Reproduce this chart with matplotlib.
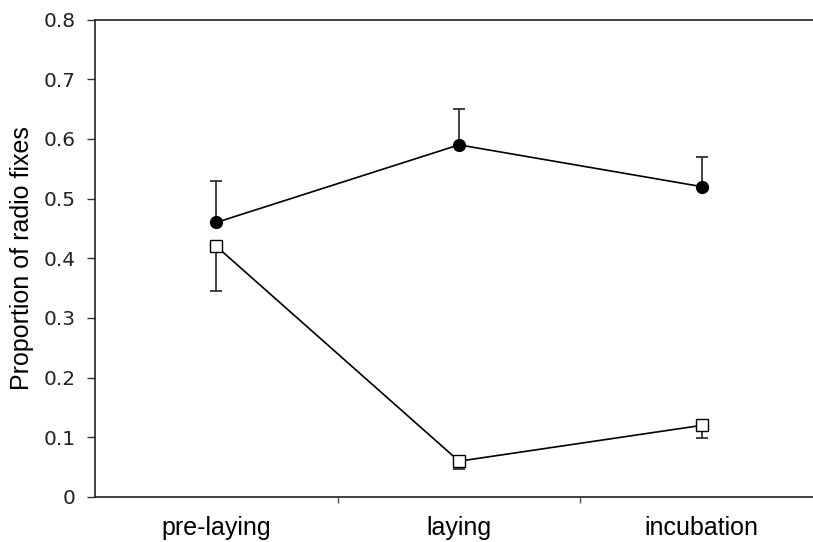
import numpy as np
import matplotlib.pyplot as plt
from matplotlib.ticker import FixedLocator, NullFormatter

stages = ['pre-laying', 'laying', 'incubation']

# filled circles, upper error only
closedVals = [0.46, 0.59, 0.52]
closedErrUp = [0.07, 0.06, 0.05]

# open squares, lower error only
openVals = [0.42, 0.06, 0.12]
openErrDown = [0.075, 0.013, 0.021]

yTicks = [0, 0.1, 0.2, 0.3, 0.4, 0.5, 0.6, 0.7, 0.8]
yTickLabels = ['0', '0.1', '0.2', '0.3', '0.4', '0.5', '0.6', '0.7', '0.8']

fig = plt.figure(figsize=(8.13, 5.42), dpi=100)
ax = fig.add_axes([95 / 813, 45 / 542, 728 / 813, 477.5 / 542])

x = np.arange(len(stages))
errColor = '#333333'

ax.errorbar(x, closedVals, yerr=[np.zeros(3), closedErrUp], fmt='none',
            ecolor=errColor, elinewidth=1.3, capsize=4, capthick=1.3, zorder=2)
ax.errorbar(x, openVals, yerr=[openErrDown, np.zeros(3)], fmt='none',
            ecolor=errColor, elinewidth=1.3, capsize=4, capthick=1.3, zorder=2)

ax.plot(x, closedVals, color='black', linewidth=1.2, marker='o',
        markersize=8.5, markerfacecolor='black', markeredgecolor='black', zorder=3)
ax.plot(x, openVals, color='black', linewidth=1.2, marker='s',
        markersize=8, markerfacecolor='white', markeredgecolor='black',
        markeredgewidth=1.0, zorder=3)

ax.set_xlim(-0.5, 2.5)
ax.set_ylim(0, 0.8)

ax.set_yticks(yTicks)
ax.set_yticklabels(yTickLabels, family='DejaVu Sans', fontsize=14.5, color='#222222')
ax.tick_params(axis='y', direction='out', length=6, width=1, color='#333333', pad=8)

ax.set_xticks(x)
ax.set_xticklabels(stages, family='Liberation Sans', fontsize=18)
ax.tick_params(axis='x', which='major', length=0, pad=14)
ax.xaxis.set_minor_locator(FixedLocator([0.5, 1.5]))
ax.xaxis.set_minor_formatter(NullFormatter())
ax.tick_params(axis='x', which='minor', direction='out', length=4, width=1, color='#555555')

ax.set_ylabel('Proportion of radio fixes', family='Liberation Sans', fontsize=18, labelpad=7)

for side in ['left', 'bottom', 'top']:
    ax.spines[side].set_color('#222222')
    ax.spines[side].set_linewidth(1.2)
ax.spines['right'].set_visible(False)

fig.savefig('out.png', dpi=100)
